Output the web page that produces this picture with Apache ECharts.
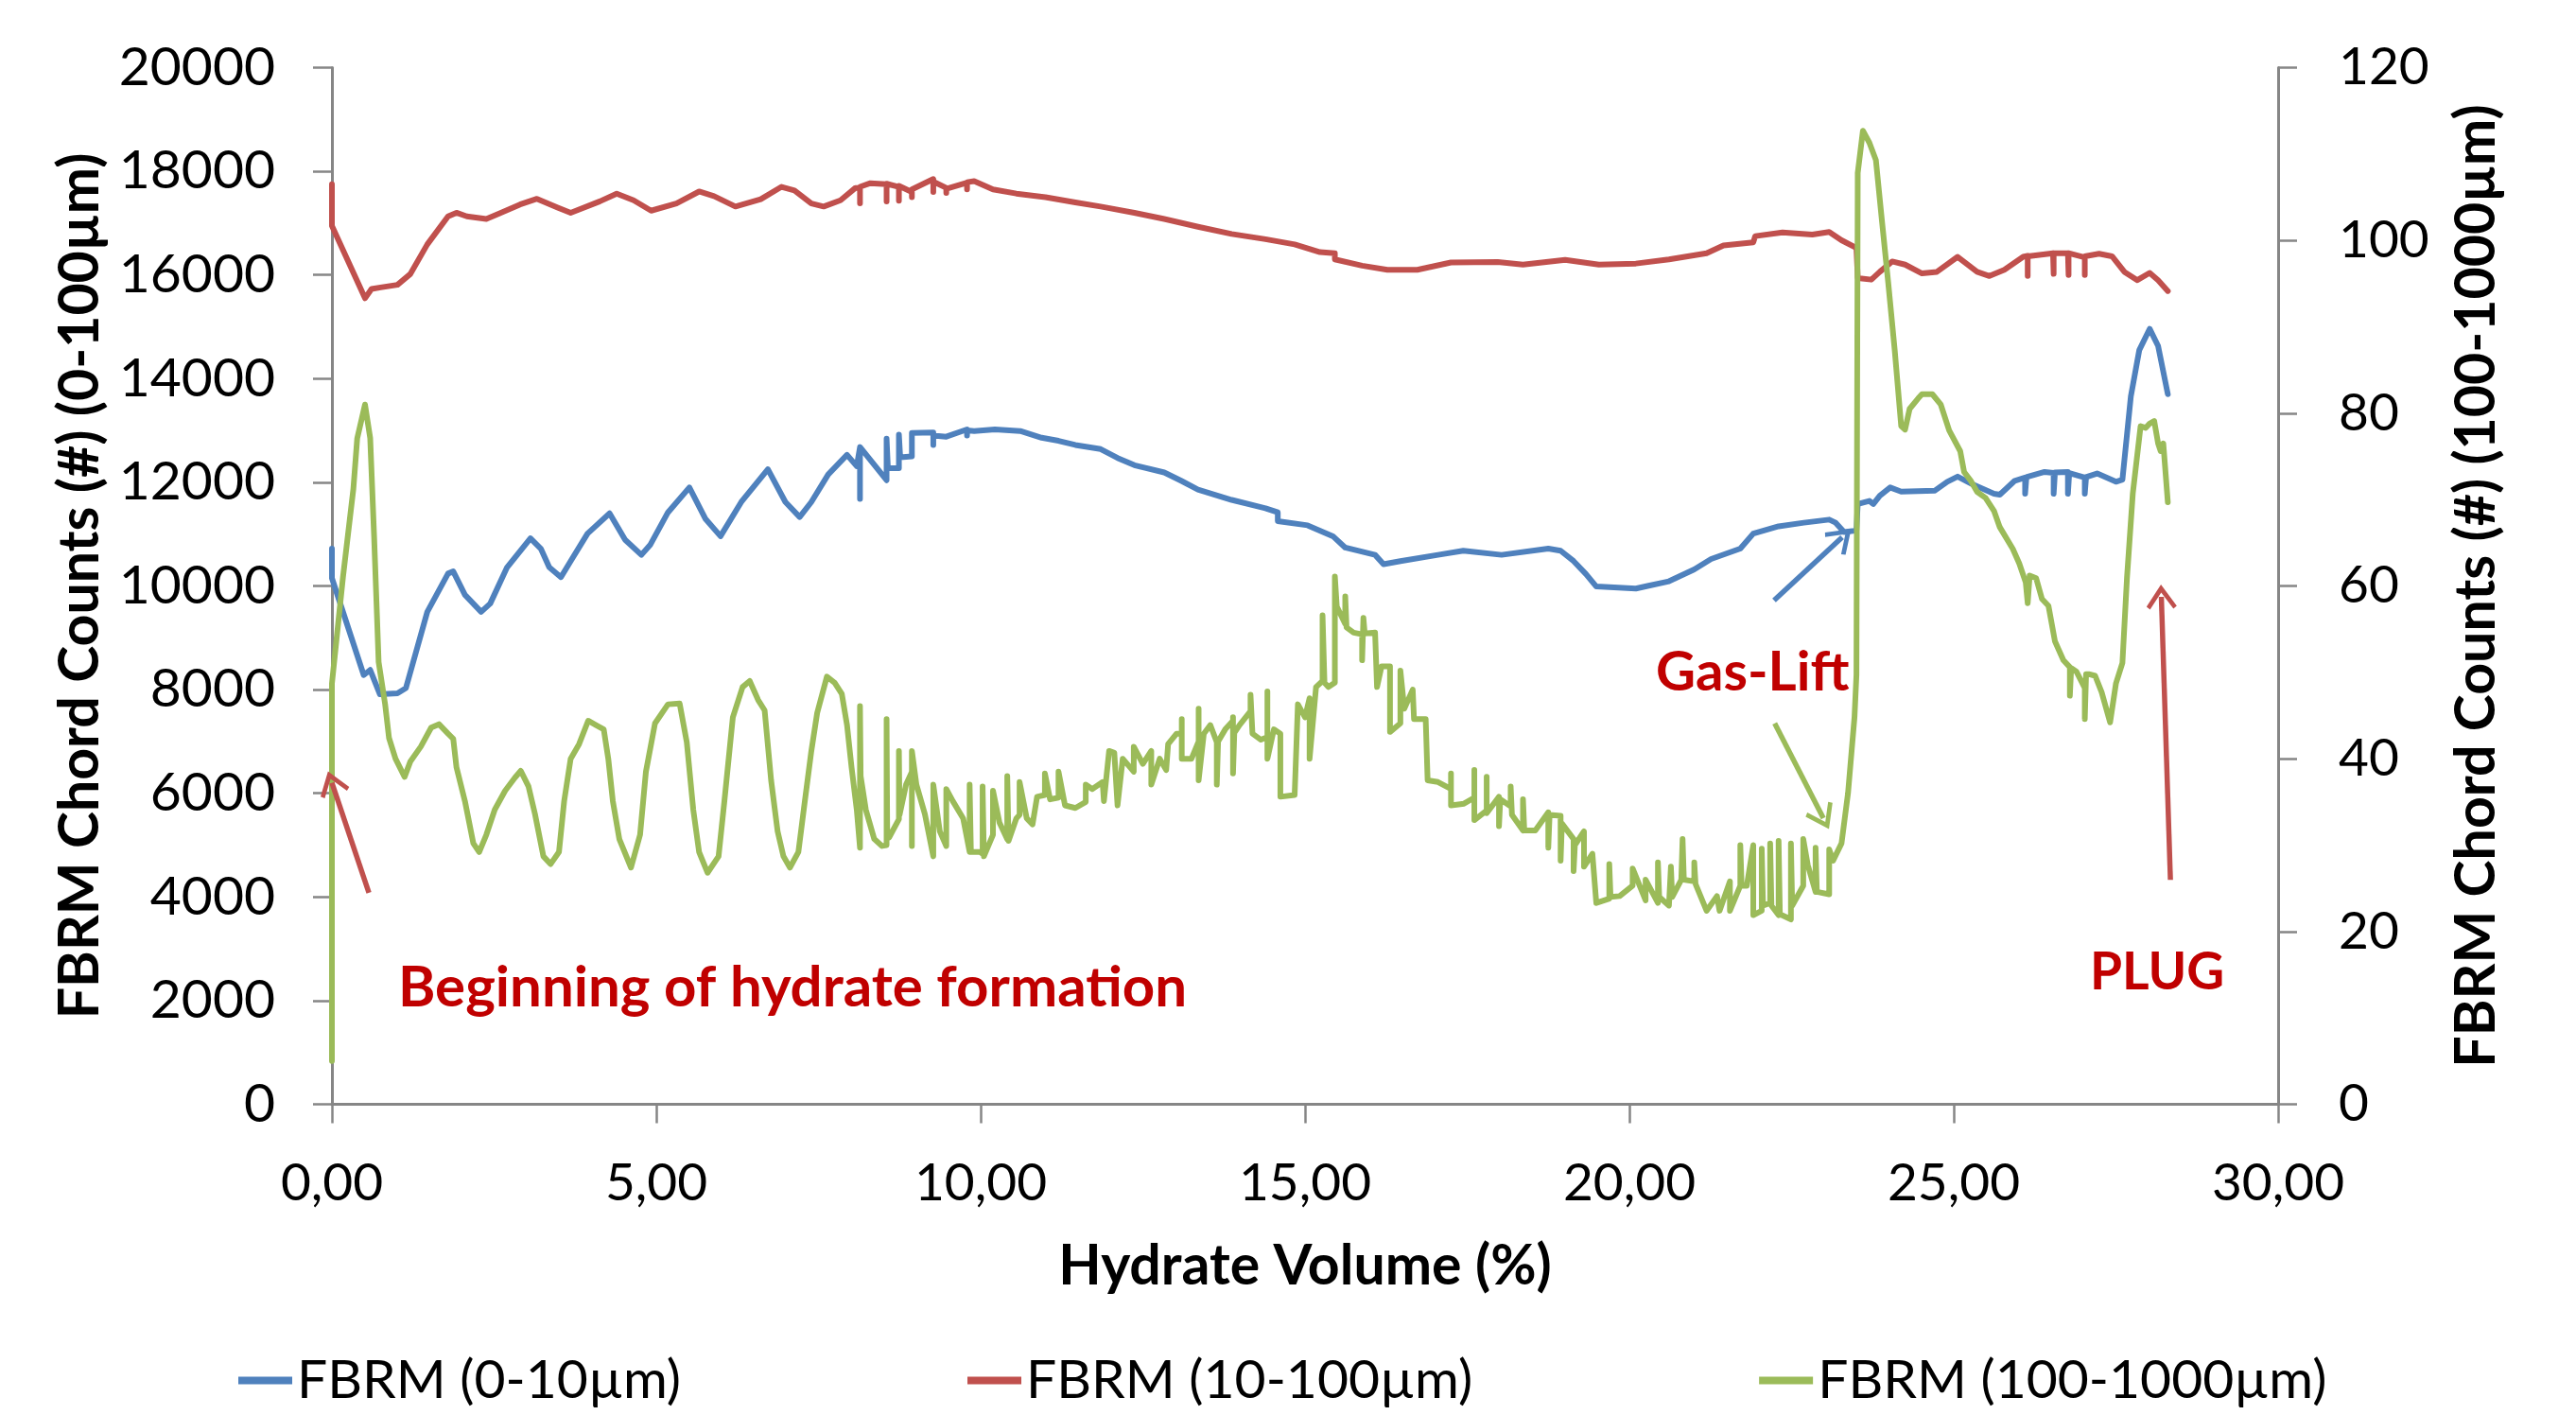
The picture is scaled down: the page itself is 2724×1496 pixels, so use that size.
<!DOCTYPE html>
<html>
<head>
<meta charset="utf-8">
<title>FBRM chord counts vs hydrate volume</title>
<script src="https://cdn.jsdelivr.net/npm/echarts@6/dist/echarts.min.js"></script>
<style>
  html, body { margin: 0; padding: 0; background: #fff; }
  #chart { width: 2724px; height: 1496px; }
</style>
</head>
<body>
<div id="chart"></div>
<script>
// [hydrate volume %, chord counts]
// FBRM 0-10 µm (left axis)
const fine = [
  [0, 10720], [0, 10150], [0.49, 8280], [0.59, 8380], [0.74, 7910], [1.01, 7930], [1.14, 8030],
  [1.47, 9500], [1.79, 10240], [1.87, 10280], [2.05, 9830], [2.30, 9500], [2.44, 9660],
  [2.70, 10360], [3.06, 10920], [3.22, 10720], [3.35, 10360], [3.53, 10170], [3.68, 10480],
  [3.94, 11010], [4.28, 11400], [4.52, 10890], [4.77, 10600], [4.91, 10800], [5.18, 11420],
  [5.51, 11900], [5.76, 11290], [5.99, 10960], [6.31, 11620], [6.72, 12250], [6.99, 11620],
  [7.21, 11330], [7.39, 11620], [7.65, 12150], [7.94, 12530], [8.09, 12310], [8.14, 12680],
  [8.14, 11680], [8.14, 12680], [8.55, 12040], [8.55, 12840], [8.57, 12270], [8.74, 12270],
  [8.74, 12920], [8.76, 12480], [8.94, 12500], [8.94, 12950], [9.27, 12960], [9.27, 12720],
  [9.27, 12900], [9.47, 12880], [9.79, 13020], [9.79, 12900], [9.79, 13000], [9.90, 12990],
  [10.22, 13020], [10.61, 12990], [10.94, 12860], [11.20, 12800], [11.46, 12720], [11.85, 12640],
  [12.11, 12470], [12.37, 12330], [12.83, 12190], [13.09, 12030], [13.35, 11860], [13.87, 11660],
  [14.39, 11500], [14.58, 11420], [14.58, 11250], [15.04, 11170], [15.43, 10960], [15.62, 10740],
  [16.08, 10600], [16.21, 10420], [16.47, 10480], [17.05, 10600], [17.44, 10680], [18.03, 10600],
  [18.75, 10720], [18.94, 10680], [19.14, 10480], [19.33, 10230], [19.49, 9990], [20.10, 9950],
  [20.28, 10000], [20.61, 10090], [21.00, 10320], [21.26, 10520], [21.71, 10720], [21.91, 11010],
  [22.30, 11150], [22.69, 11220], [23.08, 11280], [23.18, 11220], [23.31, 11040], [23.50, 11070],
  [23.52, 11580], [23.70, 11640], [23.76, 11580], [23.86, 11740], [24.02, 11900], [24.19, 11820],
  [24.71, 11840], [24.90, 12010], [25.06, 12110], [25.29, 11960], [25.62, 11780], [25.71, 11760],
  [25.94, 12030], [26.10, 12090], [26.10, 11780], [26.12, 12100], [26.40, 12200], [26.54, 12180],
  [26.54, 11780], [26.56, 12190], [26.76, 12200], [26.76, 11780], [26.78, 12180], [27.02, 12090],
  [27.02, 11780], [27.04, 12100], [27.21, 12170], [27.50, 12010], [27.60, 12050], [27.73, 13660],
  [27.86, 14550], [28.02, 14960], [28.15, 14630], [28.30, 13700]
];

// FBRM 10-100 µm (left axis)
const medium = [
  [0, 17750], [0, 16950], [0.51, 15550], [0.61, 15730], [0.75, 15760], [1.01, 15810], [1.21, 16020],
  [1.47, 16590], [1.79, 17130], [1.92, 17200], [2.08, 17130], [2.38, 17080], [2.57, 17180],
  [2.90, 17360], [3.16, 17470], [3.48, 17300], [3.68, 17200], [4.13, 17420], [4.39, 17570],
  [4.65, 17440], [4.92, 17240], [5.31, 17380], [5.66, 17610], [5.89, 17520], [6.22, 17320],
  [6.61, 17460], [6.93, 17700], [7.13, 17630], [7.39, 17380], [7.58, 17320], [7.84, 17440],
  [8.07, 17680], [8.14, 17680], [8.14, 17380], [8.14, 17700], [8.30, 17770], [8.55, 17750],
  [8.55, 17420], [8.55, 17760], [8.74, 17700], [8.74, 17430], [8.74, 17720], [8.94, 17600],
  [8.94, 17500], [8.94, 17650], [9.27, 17850], [9.27, 17600], [9.27, 17800], [9.47, 17680],
  [9.47, 17580], [9.47, 17660], [9.79, 17780], [9.79, 17650], [9.79, 17790], [9.90, 17810],
  [10.19, 17650], [10.55, 17570], [11.00, 17500], [11.46, 17400], [11.85, 17320], [12.37, 17200],
  [12.83, 17080], [13.35, 16930], [13.87, 16790], [14.39, 16690], [14.84, 16590], [15.23, 16440],
  [15.46, 16420], [15.46, 16300], [15.88, 16180], [16.27, 16100], [16.73, 16100], [17.25, 16240],
  [17.97, 16250], [18.36, 16200], [19.01, 16290], [19.53, 16200], [20.10, 16220], [20.61, 16300],
  [21.19, 16420], [21.45, 16570], [21.91, 16630], [21.94, 16750], [22.36, 16820], [22.82, 16780],
  [23.08, 16830], [23.27, 16670], [23.50, 16520], [23.52, 15940], [23.73, 15910], [23.86, 16060],
  [24.05, 16260], [24.25, 16200], [24.51, 16030], [24.74, 16060], [25.06, 16350], [25.36, 16060],
  [25.55, 15980], [25.78, 16100], [26.07, 16350], [26.14, 16370], [26.14, 15980], [26.14, 16360],
  [26.53, 16420], [26.54, 16020], [26.54, 16420], [26.76, 16420], [26.77, 16000], [26.77, 16420],
  [27.02, 16340], [27.02, 16000], [27.02, 16360], [27.24, 16410], [27.44, 16360], [27.63, 16060],
  [27.83, 15900], [28.02, 16040], [28.15, 15900], [28.30, 15690]
];

// FBRM 100-1000 µm (right axis)
const coarse = [
  [0, 5.0], [0, 48.7], [0.17, 61.0], [0.33, 71.2], [0.39, 77.1], [0.51, 81.0], [0.59, 77.1],
  [0.65, 65.8], [0.72, 51.2], [0.82, 46.3], [0.88, 42.4], [0.98, 40.0], [1.12, 37.9], [1.21, 39.7],
  [1.37, 41.4], [1.53, 43.6], [1.65, 44.0], [1.79, 42.9], [1.87, 42.3], [1.92, 39.0], [2.05, 35.1],
  [2.18, 30.2], [2.27, 29.2], [2.38, 31.2], [2.51, 34.1], [2.67, 36.3], [2.82, 37.8], [2.91, 38.6],
  [3.03, 36.8], [3.13, 33.6], [3.26, 28.7], [3.37, 27.8], [3.50, 29.2], [3.58, 35.1], [3.68, 40.0],
  [3.81, 41.7], [3.95, 44.4], [4.07, 43.9], [4.19, 43.4], [4.26, 40.0], [4.33, 35.1], [4.43, 30.7],
  [4.61, 27.4], [4.75, 31.2], [4.84, 38.5], [4.98, 44.1], [5.18, 46.3], [5.36, 46.4], [5.47, 41.9],
  [5.57, 34.1], [5.66, 29.2], [5.79, 26.8], [5.96, 28.7], [6.05, 35.1], [6.18, 44.8], [6.33, 48.3],
  [6.44, 49.0], [6.57, 46.8], [6.67, 45.6], [6.77, 37.5], [6.87, 31.6], [6.96, 28.7], [7.06, 27.4],
  [7.19, 29.2], [7.29, 35.1], [7.39, 40.9], [7.48, 45.3], [7.63, 49.5], [7.75, 48.8], [7.86, 47.5],
  [7.94, 43.9], [8.01, 39.0], [8.09, 34.1], [8.14, 29.7], [8.14, 46.1], [8.15, 38.0], [8.23, 34.1],
  [8.36, 30.7], [8.48, 29.9], [8.55, 30.0], [8.55, 44.6], [8.56, 31.0], [8.59, 30.9], [8.74, 33.0],
  [8.74, 40.9], [8.75, 33.5], [8.85, 37.0], [8.94, 38.5], [8.94, 29.9], [8.94, 40.9], [9.01, 37.0],
  [9.14, 33.6], [9.27, 28.7], [9.27, 37.0], [9.37, 31.6], [9.47, 29.9], [9.47, 36.5], [9.57, 35.1],
  [9.73, 33.1], [9.83, 29.2], [9.83, 37.0], [9.85, 29.2], [9.99, 29.2],
  [10.03, 29.0], [10.03, 36.8], [10.05, 28.7], [10.19, 31.2], [10.19, 36.3], [10.29, 32.6],
  [10.41, 30.7], [10.41, 38.0], [10.43, 30.5], [10.55, 33.1], [10.60, 33.5], [10.60, 37.3],
  [10.71, 33.1], [10.80, 32.4], [10.87, 35.6], [10.99, 35.8], [10.99, 38.3], [11.07, 35.3],
  [11.20, 35.5], [11.20, 38.5], [11.30, 34.6], [11.46, 34.3], [11.62, 35.0], [11.62, 37.0],
  [11.72, 36.5], [11.88, 37.3], [11.90, 35.1], [11.98, 40.9], [12.06, 40.7], [12.11, 34.6],
  [12.19, 40.0], [12.36, 38.5], [12.36, 41.4], [12.50, 39.4], [12.63, 40.9], [12.63, 37.0],
  [12.76, 40.0], [12.86, 38.7], [12.89, 41.7], [13.02, 42.9], [13.10, 42.9], [13.10, 44.6],
  [13.10, 40.0], [13.25, 40.0], [13.36, 42.0], [13.36, 45.8], [13.36, 37.5], [13.44, 42.9],
  [13.54, 43.9], [13.64, 41.9], [13.64, 37.0], [13.66, 42.0], [13.77, 43.4], [13.89, 44.4],
  [13.89, 44.8], [13.89, 38.3], [13.91, 43.0], [13.99, 43.9], [14.16, 45.5], [14.16, 47.4],
  [14.19, 42.9], [14.32, 42.2], [14.42, 42.5], [14.42, 47.8], [14.42, 40.0], [14.52, 43.4],
  [14.62, 42.9], [14.62, 35.6], [14.84, 35.8], [14.89, 46.3], [15.00, 44.8], [15.07, 47.0],
  [15.07, 40.0], [15.17, 48.3], [15.27, 49.0], [15.27, 56.6], [15.30, 48.8], [15.36, 48.3],
  [15.46, 48.8], [15.46, 61.1], [15.49, 57.6], [15.62, 55.6], [15.62, 58.8], [15.64, 55.2],
  [15.75, 54.6], [15.88, 54.4], [15.88, 51.4], [15.90, 56.3], [15.92, 54.5], [16.08, 54.6],
  [16.11, 48.3], [16.18, 50.7], [16.31, 50.7], [16.31, 43.1], [16.47, 44.1], [16.47, 50.2],
  [16.53, 45.8], [16.66, 48.0], [16.68, 44.6], [16.86, 44.6], [16.89, 37.5], [17.05, 37.3],
  [17.25, 36.5], [17.25, 38.3], [17.25, 34.6], [17.45, 34.8], [17.61, 35.5], [17.61, 38.7],
  [17.61, 32.9], [17.80, 34.0], [17.80, 37.9], [17.80, 33.7], [17.99, 35.6], [17.99, 32.2],
  [18.01, 35.3], [18.17, 34.5], [18.17, 36.8], [18.19, 33.5], [18.36, 31.7], [18.36, 35.3],
  [18.38, 31.7], [18.55, 31.7], [18.75, 33.8], [18.75, 29.7], [18.77, 33.5], [18.94, 33.4],
  [18.94, 28.2], [18.96, 32.5], [19.14, 30.7], [19.14, 27.0], [19.16, 30.0], [19.30, 31.6],
  [19.30, 27.5], [19.43, 29.0], [19.49, 23.3], [19.69, 23.8], [19.69, 27.8], [19.71, 24.0],
  [19.85, 24.1], [20.05, 25.3], [20.05, 27.3], [20.25, 23.6], [20.25, 26.0], [20.44, 23.3],
  [20.44, 28.0], [20.46, 24.0], [20.61, 23.0], [20.64, 27.5], [20.66, 24.0], [20.80, 26.0],
  [20.82, 30.7], [20.84, 26.0], [21.00, 25.8], [21.00, 28.0], [21.02, 25.5], [21.19, 22.4],
  [21.35, 24.1], [21.39, 22.4], [21.55, 25.8], [21.55, 22.4], [21.71, 25.3], [21.71, 30.0],
  [21.73, 25.3], [21.81, 25.3], [21.91, 30.0], [21.91, 21.9], [22.04, 22.4], [22.04, 29.6],
  [22.06, 23.0], [22.17, 23.3], [22.17, 30.2], [22.19, 23.0], [22.30, 21.9], [22.30, 30.5],
  [22.32, 22.0], [22.49, 21.4], [22.49, 30.2], [22.51, 23.0], [22.68, 25.3], [22.68, 30.7],
  [22.75, 27.7], [22.87, 24.6], [22.87, 29.7], [22.89, 24.6], [23.08, 24.3], [23.08, 29.5],
  [23.14, 28.2], [23.27, 30.2], [23.37, 36.0], [23.47, 44.8], [23.50, 49.7], [23.52, 107.8],
  [23.60, 112.7], [23.70, 111.3], [23.80, 109.3], [23.89, 102.5], [23.99, 95.1], [24.09, 87.3],
  [24.19, 78.5], [24.25, 78.1], [24.32, 80.5], [24.45, 81.7], [24.51, 82.2], [24.67, 82.2],
  [24.80, 81.0], [24.93, 78.0], [25.10, 75.6], [25.16, 73.2], [25.26, 72.2], [25.36, 70.9],
  [25.49, 70.2], [25.62, 68.7], [25.71, 66.8], [25.91, 64.3], [26.01, 62.6], [26.11, 60.4],
  [26.14, 58.0], [26.17, 61.2], [26.27, 60.9], [26.36, 58.5], [26.46, 57.7], [26.56, 53.6],
  [26.69, 51.4], [26.79, 50.6], [26.79, 47.3], [26.81, 50.5], [26.89, 50.1], [27.02, 48.2],
  [27.02, 44.6], [27.04, 49.8], [27.08, 49.8], [27.18, 49.6], [27.28, 47.7], [27.41, 44.2],
  [27.50, 48.7], [27.60, 51.1], [27.67, 60.9], [27.76, 70.7], [27.88, 78.5], [27.96, 78.3],
  [28.02, 78.8], [28.09, 79.1], [28.15, 76.5], [28.19, 75.6], [28.23, 76.5], [28.30, 69.7]
];

const seriesNames = ['FBRM (0-10µm)', 'FBRM (10-100µm)', 'FBRM (100-1000µm)'];
const seriesColors = ['#4F81BD', '#C0504D', '#9BBB59'];

// annotation arrows, in left-axis coordinates: [from, to]
const arrowStart = [[0.57, 4080], [22.23, 9720], [22.24, 7350], [28.34, 4330]];
const arrowEnd = [[0.0, 6200], [23.28, 10940], [22.99, 5520], [28.20, 9790]];
const arrowColors = ['#C0504D', '#4F81BD', '#9BBB59', '#C0504D'];

const FONT = 'Lato';
const AXIS_GREY = '#868686';

const chart = echarts.init(document.getElementById('chart'));

const arrowHead = 'path://M0,0 L11,15 L8.5,17 L0,5.5 L-8.5,17 L-11,15 Z';

const arrows = arrowStart.map(function (s, i) {
  const ls = { color: arrowColors[i], width: 5.5, type: 'solid' };
  return [{ coord: s, lineStyle: ls }, { coord: arrowEnd[i], lineStyle: ls }];
});

function axisCommon() {
  return {
    axisLine: { show: true, onZero: false, lineStyle: { color: AXIS_GREY, width: 3 } },
    axisTick: { show: true, inside: false, length: 20, lineStyle: { color: AXIS_GREY, width: 2.5 } },
    splitLine: { show: false },
    axisLabel: { color: '#000', fontFamily: FONT, fontSize: 55 },
    nameTextStyle: { color: '#000', fontFamily: FONT, fontSize: 59, fontWeight: 'bold' }
  };
}

const xAxis = Object.assign(axisCommon(), {
  type: 'value', min: 0, max: 30, interval: 5,
  name: 'Hydrate Volume (%)', nameLocation: 'middle', nameGap: 142
});
xAxis.axisLabel.margin = 56;
xAxis.axisLabel.formatter = function (v) { return v.toFixed(2).replace('.', ','); };

const yLeft = Object.assign(axisCommon(), {
  type: 'value', min: 0, max: 20000, interval: 2000, position: 'left',
  name: 'FBRM Chord Counts (#) (0-100µm)', nameLocation: 'middle', nameGap: 236, nameRotate: 90
});
yLeft.axisLabel.margin = 60;
yLeft.axisLabel.fontSize = 57;
yLeft.axisLabel.formatter = function (v) { return String(v); };

const yRight = Object.assign(axisCommon(), {
  type: 'value', min: 0, max: 120, interval: 20, position: 'right',
  name: 'FBRM Chord Counts (#) (100-1000µm)', nameLocation: 'middle', nameGap: 180, nameRotate: 90
});
yRight.axisLabel.margin = 64;

function lineSeries(i, data, yAxisIndex) {
  return {
    name: seriesNames[i],
    type: 'line',
    yAxisIndex: yAxisIndex,
    data: data,
    showSymbol: false,
    symbol: 'none',
    smooth: false,
    color: seriesColors[i],
    lineStyle: { color: seriesColors[i], width: 6, join: 'round', cap: 'round' },
    z: 2 + i
  };
}

const fineSeries = lineSeries(0, fine, 0);
fineSeries.markLine = {
  silent: true,
  animation: false,
  symbol: ['none', arrowHead],
  symbolSize: [32, 26],
  label: { show: false },
  data: arrows
};

chart.setOption({
  animation: false,
  backgroundColor: '#fff',
  textStyle: { fontFamily: FONT },
  grid: { left: 351, right: 315, top: 71.5, bottom: 328.5, containLabel: false },
  legend: {
    data: seriesNames,
    left: 247,
    top: 1426,
    icon: 'rect',
    itemWidth: 57,
    itemHeight: 8,
    itemGap: 303,
    textStyle: { color: '#000', fontFamily: FONT, fontSize: 57 }
  },
  xAxis: xAxis,
  yAxis: [yLeft, yRight],
  series: [
    fineSeries,
    lineSeries(1, medium, 0),
    lineSeries(2, coarse, 1)
  ],
  graphic: [
    { type: 'text', left: 421, top: 1015, style: { text: 'Beginning of hydrate formation', fill: '#C00000', font: 'bold 60px Lato' } },
    { type: 'text', left: 1751, top: 682, style: { text: 'Gas-Lift', fill: '#C00000', font: 'bold 58px Lato' } },
    { type: 'text', left: 2210, top: 1001, style: { text: 'PLUG', fill: '#C00000', font: 'bold 55px Lato' } }
  ]
});
</script>
</body>
</html>
